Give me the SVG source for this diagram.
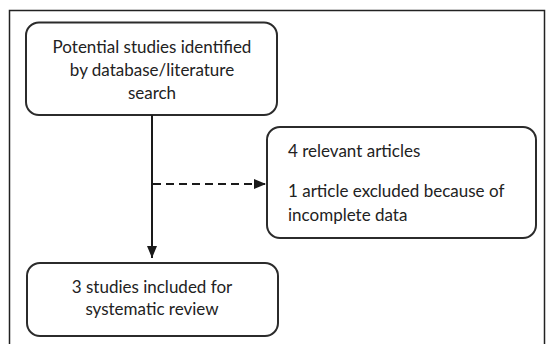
<svg xmlns="http://www.w3.org/2000/svg" width="549" height="344" viewBox="0 0 549 344">
<style>
.box{fill:#fff;stroke:#2b2b2b;stroke-width:2}
.t{font-family:Lato,"Open Sans","Liberation Sans",sans-serif;font-size:17px;fill:#222}
.c{text-anchor:middle}
.ln{stroke:#1a1a1a;stroke-width:2;fill:none}
</style>
<defs>
<marker id="ah" markerWidth="12" markerHeight="10" refX="12" refY="5" orient="auto" markerUnits="userSpaceOnUse">
<path d="M0,0 L12,5 L0,10 Z" fill="#1a1a1a"/>
</marker>
</defs>
<rect x="0" y="0" width="549" height="344" fill="#fff"/>
<rect x="9.5" y="10.5" width="535" height="345" fill="none" stroke="#222" stroke-width="1.5"/>
<g id="n1">
<rect class="box" x="26" y="22.5" width="251" height="92.5" rx="13"/>
<text class="t c" x="152" y="53">Potential studies identified</text>
<text class="t c" x="152" y="76">by database/literature</text>
<text class="t c" x="152" y="99">search</text>
</g>
<g id="n2">
<rect class="box" x="267" y="127" width="269" height="111" rx="13"/>
<text class="t" x="288" y="157">4 relevant articles</text>
<text class="t" x="288" y="197">1 article excluded because of</text>
<text class="t" x="288" y="221">incomplete data</text>
</g>
<g id="n3">
<rect class="box" x="27" y="263" width="251" height="73" rx="13"/>
<text class="t c" x="152" y="293">3 studies included for</text>
<text class="t c" x="152" y="315">systematic review</text>
</g>
<g id="edges">
<line class="ln" x1="152" y1="115" x2="152" y2="258" marker-end="url(#ah)"/>
<line class="ln" x1="153" y1="184" x2="266" y2="184" stroke-dasharray="8,5" marker-end="url(#ah)"/>
</g>
</svg>
